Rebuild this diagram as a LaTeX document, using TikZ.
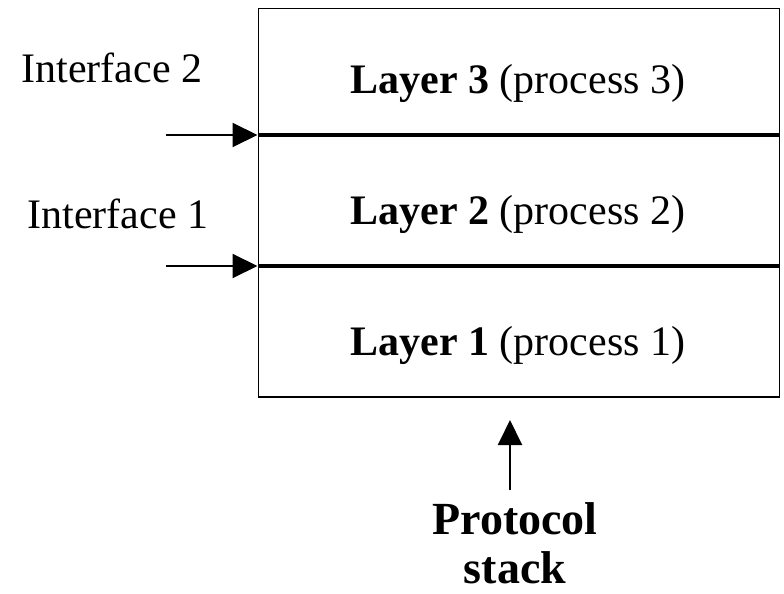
\documentclass[tikz,border=0pt]{standalone}
\usepackage{fontspec}
\setmainfont{Liberation Serif}
\usetikzlibrary{arrows.meta}
\begin{document}
\begin{tikzpicture}[x=1pt,y=-1pt,
  lbl/.style={font=\fontsize{42}{50}\selectfont, inner sep=0pt, anchor=base},
  arr/.style={line width=2pt,-{Triangle[length=25pt,width=24pt]}},
  sep/.style={line width=4.5pt}]
\useasboundingbox (0,0) rectangle (784,594);
\node[draw, line width=1.5pt, minimum width=521pt, minimum height=388pt, inner sep=0pt, anchor=north west] (box) at (257.5,8) {};
\coordinate (s2l) at (257.5,135);
\coordinate (s2r) at (778.5,135);
\coordinate (s1l) at (257.5,266);
\coordinate (s1r) at (778.5,266);
\draw[sep] (s2l) -- (s2r);
\draw[sep] (s1l) -- (s1r);
\node[lbl] (l3) at (518,93) {\textbf{Layer 3} (process 3)};
\node[lbl] (l2) at (518,224) {\textbf{Layer 2} (process 2)};
\node[lbl] (l1) at (518,355) {\textbf{Layer 1} (process 1)};
\node[lbl] (i2) at (112,82) {Interface 2};
\node[lbl] (i1) at (118,228) {Interface 1};
\coordinate (a2) at (166,135);
\coordinate (a1) at (166,266);
\draw[arr] (a2) -- (s2l);
\draw[arr] (a1) -- (s1l);
\node[lbl, font=\fontsize{46}{52}\selectfont\bfseries] (ps1) at (515,534) {Protocol};
\node[lbl, font=\fontsize{46}{52}\selectfont\bfseries] (ps2) at (515,583) {stack};
\coordinate (pa) at (510,490);
\coordinate (pb) at (510,420);
\draw[arr] (pa) -- (pb);
\end{tikzpicture}
\end{document}
